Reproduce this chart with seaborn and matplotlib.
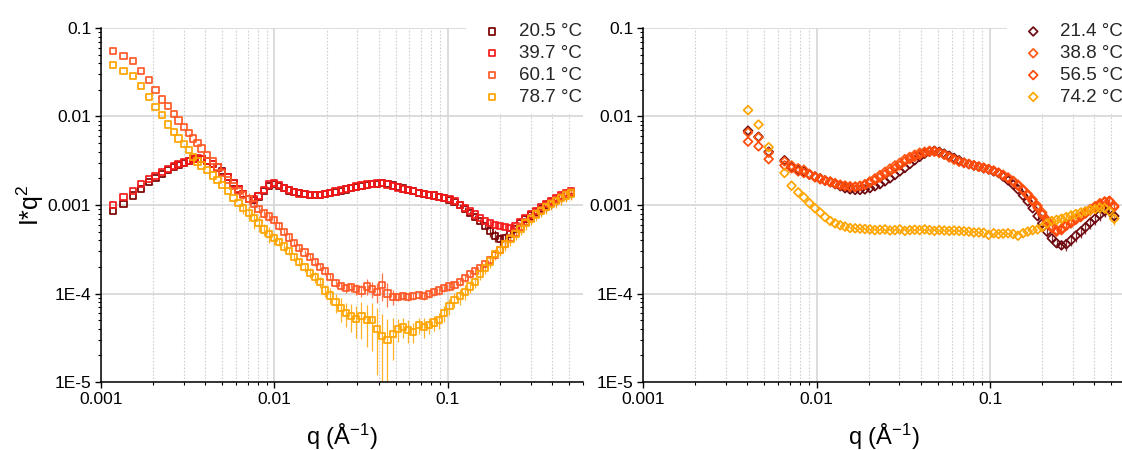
import numpy as np
import pandas as pd
import matplotlib
matplotlib.use('Agg')
import matplotlib.pyplot as plt
import matplotlib.ticker as mticker
import seaborn as sns

# Panneau gauche : q (A^-1) et I*q^2 pour chaque température
LEFT_Q = [0.00117, 0.00135, 0.00153, 0.0017, 0.00189, 0.00206, 0.00224, 0.00243, 0.00263, 0.0028,
          0.003, 0.0032, 0.0034, 0.0036, 0.0038, 0.0041, 0.0044, 0.0047, 0.005, 0.0054,
          0.0058, 0.0062, 0.0066, 0.0071, 0.0076, 0.0081, 0.0087, 0.0093, 0.0099, 0.0106,
          0.0113, 0.0121, 0.013, 0.0139, 0.0149, 0.016, 0.0171, 0.0183, 0.0196, 0.021,
          0.0225, 0.0241, 0.0258, 0.0276, 0.0296, 0.0317, 0.034, 0.0364, 0.039, 0.0418,
          0.0448, 0.048, 0.0514, 0.055, 0.059, 0.063, 0.068, 0.073, 0.078, 0.083,
          0.089, 0.095, 0.102, 0.109, 0.117, 0.125, 0.134, 0.143, 0.153, 0.164,
          0.175, 0.187, 0.2, 0.214, 0.229, 0.245, 0.262, 0.28, 0.3, 0.32,
          0.343, 0.367, 0.393, 0.42, 0.45, 0.48, 0.51]

LEFT_LABELS = ['20.5 °C', '39.7 °C', '60.1 °C', '78.7 °C']
LEFT_COLORS = ['#7a0000', '#f51a1a', '#ff5a28', '#ffa500']

I_205 = [0.00086, 0.00102, 0.00128, 0.00151, 0.00182, 0.00203, 0.00224, 0.0025, 0.0027, 0.00284,
         0.00298, 0.00312, 0.00328, 0.00334, 0.0033, 0.00315, 0.00293, 0.00265, 0.0024, 0.00208,
         0.00176, 0.0015, 0.00132, 0.00117, 0.00115, 0.00125, 0.00145, 0.00165, 0.00172, 0.00165,
         0.00155, 0.00146, 0.0014, 0.00136, 0.00132, 0.00131, 0.0013, 0.0013, 0.00132, 0.00136,
         0.0014, 0.00145, 0.0015, 0.00155, 0.0016, 0.00165, 0.00169, 0.00172, 0.00174, 0.00178,
         0.00172, 0.00166, 0.0016, 0.00154, 0.00148, 0.00143, 0.00138, 0.00134, 0.00131, 0.00128,
         0.00124, 0.0012, 0.00115, 0.00108, 0.00099, 0.0009, 0.00081, 0.00073, 0.00066, 0.00058,
         0.00051, 0.00045, 0.00041, 0.00042, 0.00047, 0.00054, 0.00062, 0.00069, 0.00076, 0.00083,
         0.00091, 0.00099, 0.00107, 0.00115, 0.00123, 0.00132, 0.00138]

I_397 = [0.001, 0.00124, 0.00144, 0.00172, 0.00196, 0.00212, 0.00237, 0.00257, 0.00276, 0.00288,
         0.00302, 0.00316, 0.00333, 0.00336, 0.0033, 0.00312, 0.00292, 0.00265, 0.00238, 0.00206,
         0.00175, 0.00152, 0.00134, 0.00118, 0.00116, 0.00126, 0.00148, 0.0017, 0.00176, 0.00168,
         0.00156, 0.00148, 0.00141, 0.00135, 0.00133, 0.00131, 0.0013, 0.00131, 0.00133, 0.00137,
         0.00142, 0.00147, 0.00152, 0.00157, 0.00162, 0.00166, 0.0017, 0.00173, 0.00175, 0.00176,
         0.0017, 0.00165, 0.00158, 0.00153, 0.00148, 0.00143, 0.00138, 0.00134, 0.00131, 0.00128,
         0.00124, 0.00121, 0.00117, 0.0011, 0.00101, 0.00093, 0.00085, 0.00078, 0.00072, 0.00066,
         0.00062, 0.00059, 0.00058, 0.00056, 0.00055, 0.00058, 0.00064, 0.00071, 0.00078, 0.00086,
         0.00094, 0.00102, 0.0011, 0.00119, 0.00128, 0.00137, 0.00145]

I_601 = [0.0553, 0.0482, 0.0427, 0.0329, 0.0258, 0.0199, 0.0156, 0.0131, 0.0106, 0.009,
         0.00765, 0.00645, 0.00565, 0.00497, 0.00436, 0.0037, 0.00315, 0.00268, 0.00228, 0.00192,
         0.00163, 0.00145, 0.0013, 0.00118, 0.00103, 0.0009, 0.0008, 0.00074, 0.00068, 0.00058,
         0.0005, 0.00043, 0.00037, 0.00033, 0.00029, 0.00026, 0.000225, 0.0002, 0.000178, 0.000155,
         0.000132, 0.000122, 0.000115, 0.000118, 0.000112, 0.000108, 0.00012, 0.000112, 0.000104, 0.000125,
         0.0001, 0.000092, 0.000092, 0.000094, 0.000092, 0.000093, 0.000096, 0.000094, 0.000099, 0.000105,
         0.000108, 0.000115, 0.00012, 0.000125, 0.000135, 0.00015, 0.000165, 0.00018, 0.000195, 0.000215,
         0.00024, 0.00027, 0.00031, 0.00036, 0.00042, 0.00048, 0.00056, 0.00064, 0.00072, 0.0008,
         0.00088, 0.00096, 0.00105, 0.00114, 0.00124, 0.00133, 0.0014]

I_787 = [0.0381, 0.0327, 0.0284, 0.0221, 0.0167, 0.0128, 0.0104, 0.0081, 0.0067, 0.00565,
         0.00487, 0.00417, 0.0035, 0.0031, 0.0028, 0.0025, 0.00215, 0.0019, 0.00168, 0.00143,
         0.0012, 0.00105, 0.00092, 0.00082, 0.00071, 0.00062, 0.00053, 0.00047, 0.00042, 0.00038,
         0.00034, 0.0003, 0.00026, 0.000227, 0.0002, 0.000172, 0.000153, 0.000135, 0.000108, 0.000095,
         0.00008, 0.000068, 0.00006, 0.000056, 0.000052, 0.000056, 0.00005, 0.00005, 0.00004, 0.000033,
         0.00003, 0.000035, 0.00004, 0.000042, 0.000039, 0.000037, 0.000044, 0.000042, 0.000044, 0.000047,
         0.00005, 0.00006, 0.000072, 0.000085, 0.000093, 0.000105, 0.00012, 0.000135, 0.000165, 0.000195,
         0.00023, 0.00028, 0.00031, 0.00036, 0.00041, 0.00047, 0.00054, 0.00062, 0.0007, 0.00078,
         0.00086, 0.00094, 0.00102, 0.0011, 0.00119, 0.00128, 0.00135]

# Erreurs relatives (barres d'erreur)
ERR_205 = [0.0] * 64 + [0.05] * 6 + [0.15] * 17
ERR_397 = [0.0] * 70 + [0.08] * 17
ERR_601 = ([0.0] * 22 + [0.1, 0.15, 0.15, 0.1, 0.1, 0.1, 0.1, 0.1] + [0.08] * 10
           + [0.1, 0.1, 0.12, 0.12, 0.15, 0.15] + [0.2, 0.2, 0.25, 0.35, 0.3, 0.2]
           + [0.1] * 20 + [0.12] * 15)
ERR_787 = ([0.0] * 22 + [0.15, 0.2, 0.25, 0.2, 0.15, 0.2, 0.15, 0.1]
           + [0.1, 0.1, 0.1, 0.1, 0.12, 0.12, 0.15, 0.15, 0.15, 0.2]
           + [0.25, 0.3, 0.3, 0.35, 0.4, 0.45] + [0.5, 0.55, 0.7, 0.78, 0.7, 0.5]
           + [0.3, 0.25, 0.3, 0.25, 0.2, 0.25, 0.2, 0.2, 0.2]
           + [0.2] * 5 + [0.15] * 6 + [0.15] * 15)

# Panneau droit
RIGHT_Q = [0.00403, 0.00463, 0.0053, 0.00654, 0.00718, 0.00784, 0.00845, 0.0091, 0.0098, 0.0105,
           0.0112, 0.012, 0.0128, 0.0137, 0.0146, 0.0156, 0.0167, 0.0178, 0.019, 0.0203,
           0.0217, 0.0232, 0.0248, 0.0265, 0.0283, 0.0302, 0.0323, 0.0345, 0.0368, 0.0393,
           0.042, 0.0448, 0.0478, 0.051, 0.0545, 0.0582, 0.0621, 0.0663, 0.0708, 0.0756,
           0.0807, 0.0862, 0.092, 0.0982, 0.105, 0.112, 0.119, 0.127, 0.136, 0.145,
           0.155, 0.165, 0.176, 0.188, 0.2, 0.213, 0.227, 0.242, 0.258, 0.275,
           0.293, 0.312, 0.333, 0.355, 0.378, 0.403, 0.43, 0.458, 0.488, 0.52]

RIGHT_LABELS = ['21.4 °C', '38.8 °C', '56.5 °C', '74.2 °C']
RIGHT_COLORS = ['#6e0a10', '#ff5a14', '#ff4a0a', '#ffa500']

I_214 = [0.0069, 0.0059, 0.004, 0.0032, 0.0027, 0.0025, 0.0024, 0.0022, 0.0021, 0.002,
         0.0019, 0.00182, 0.00172, 0.00163, 0.00155, 0.0015, 0.00148, 0.00148, 0.0015, 0.00155,
         0.00163, 0.00172, 0.00185, 0.002, 0.00218, 0.0024, 0.00262, 0.0029, 0.0032, 0.0035,
         0.0038, 0.004, 0.0041, 0.004, 0.0038, 0.0036, 0.0034, 0.0032, 0.003, 0.0029,
         0.0028, 0.0027, 0.0026, 0.00252, 0.0024, 0.0023, 0.0021, 0.0019, 0.0017, 0.0015,
         0.00128, 0.0011, 0.00092, 0.00075, 0.00062, 0.0005, 0.00042, 0.00037, 0.00035, 0.00036,
         0.0004, 0.00045, 0.0005, 0.00056, 0.00063, 0.0007, 0.00078, 0.00085, 0.00088, 0.00075]

I_388 = [0.0066, 0.0058, 0.0039, 0.0031, 0.0028, 0.0026, 0.0025, 0.00225, 0.0021, 0.002,
         0.0019, 0.00185, 0.00177, 0.0017, 0.00166, 0.00163, 0.00162, 0.00165, 0.00172, 0.00185,
         0.002, 0.00218, 0.00237, 0.00258, 0.0028, 0.003, 0.0033, 0.0035, 0.0037, 0.0039,
         0.004, 0.0041, 0.004, 0.0039, 0.0037, 0.00345, 0.00325, 0.0031, 0.003, 0.0029,
         0.0028, 0.0027, 0.00265, 0.00255, 0.00245, 0.00232, 0.0022, 0.00205, 0.00188, 0.0017,
         0.0015, 0.00133, 0.00115, 0.00098, 0.00082, 0.00068, 0.00058, 0.00052, 0.00054, 0.0006,
         0.00065, 0.0007, 0.00075, 0.00082, 0.0009, 0.00097, 0.00105, 0.0011, 0.00112, 0.00098]

I_565 = [0.0052, 0.0046, 0.0033, 0.0028, 0.0026, 0.0024, 0.0023, 0.0022, 0.00205, 0.00195,
         0.00188, 0.0018, 0.00174, 0.00167, 0.00163, 0.0016, 0.0016, 0.00163, 0.00168, 0.00178,
         0.0019, 0.00205, 0.00222, 0.0024, 0.0026, 0.0028, 0.0031, 0.0033, 0.0035, 0.0037,
         0.0039, 0.004, 0.00405, 0.0039, 0.0037, 0.0035, 0.0033, 0.0031, 0.003, 0.0029,
         0.0028, 0.00272, 0.00262, 0.00253, 0.00243, 0.0023, 0.00215, 0.002, 0.00183, 0.00165,
         0.00146, 0.00128, 0.0011, 0.00093, 0.00078, 0.00065, 0.00055, 0.0005, 0.00052, 0.00058,
         0.00062, 0.00068, 0.00073, 0.0008, 0.00087, 0.00094, 0.001, 0.00108, 0.0011, 0.00095]

I_742 = [0.0118, 0.0081, 0.0045, 0.0023, 0.00165, 0.00139, 0.00122, 0.00105, 0.00092, 0.00082,
         0.00073, 0.00066, 0.00062, 0.00059, 0.00057, 0.00055, 0.000545, 0.00054, 0.000535, 0.00053,
         0.00052, 0.000525, 0.00053, 0.000515, 0.00052, 0.00053, 0.00051, 0.00052, 0.000525, 0.00052,
         0.00053, 0.00052, 0.00051, 0.00052, 0.000515, 0.00051, 0.000515, 0.00051, 0.000505, 0.0005,
         0.00049, 0.00049, 0.000485, 0.00046, 0.00048, 0.00047, 0.000475, 0.00048, 0.00047, 0.00045,
         0.00048, 0.0005, 0.00052, 0.00053, 0.00056, 0.00062, 0.00066, 0.00068, 0.0007, 0.00073,
         0.00076, 0.00079, 0.00082, 0.00085, 0.00088, 0.0009, 0.00093, 0.00092, 0.00085, 0.0007]

ERR_214 = [0.0] * 53 + [0.1] * 6 + [0.15] * 11
ERR_388 = [0.0] * 55 + [0.08] * 15
ERR_565 = [0.0] * 55 + [0.08] * 15
ERR_742 = [0.0] * 54 + [0.1] * 6 + [0.15] * 10

Y_TICK_LABELS = {0.1: '0.1', 0.01: '0.01', 0.001: '0.001', 1e-4: '1E-4', 1e-5: '1E-5'}


def setup_plot_style():
    # Style proche d'Origin : police type Arial, fond blanc
    sns.set_theme(style='ticks')
    plt.rcParams['font.family'] = ['Liberation Sans', 'DejaVu Sans']
    plt.rcParams['mathtext.fontset'] = 'custom'
    plt.rcParams['mathtext.rm'] = 'Liberation Sans'
    plt.rcParams['mathtext.it'] = 'Liberation Sans'
    plt.rcParams['mathtext.bf'] = 'Liberation Sans:bold'


def build_frame(q, series, errors, labels):
    # Tableau long : une ligne par point
    frames = []
    for lab, vals, err in zip(labels, series, errors):
        vals = np.asarray(vals)
        frames.append(pd.DataFrame({'q': q, 'Iq2': vals,
                                    'err': vals * np.asarray(err), 'T': lab}))
    return pd.concat(frames, ignore_index=True)


def y_formatter(v, pos):
    for key, text in Y_TICK_LABELS.items():
        if np.isclose(v, key, rtol=1e-6):
            return text
    return ''


def draw_panel(fig, ax, df, labels, colors, marker, size, legend_x):
    for lab, col in zip(labels, colors):
        sub = df[df['T'] == lab]
        has_err = sub['err'] > 0
        if has_err.any():
            ax.errorbar(sub['q'][has_err], sub['Iq2'][has_err], yerr=sub['err'][has_err],
                        fmt='none', ecolor=col, elinewidth=0.9, alpha=0.85, zorder=2)
        sns.scatterplot(x=sub['q'].values, y=sub['Iq2'].values, ax=ax, marker=marker, s=size,
                        color=col, facecolor='none', edgecolor=col, linewidth=1.25,
                        label=lab, zorder=3)

    ax.set_xscale('log')
    ax.set_yscale('log')
    ax.set_xlim(0.001, 0.6)
    ax.set_ylim(1e-5, 0.1)

    ax.xaxis.set_major_locator(mticker.FixedLocator([0.001, 0.01, 0.1]))
    ax.xaxis.set_major_formatter(mticker.FuncFormatter(lambda v, p: f'{v:g}'))
    ax.xaxis.set_minor_locator(mticker.LogLocator(base=10, subs=np.arange(2, 10), numticks=20))
    ax.xaxis.set_minor_formatter(mticker.NullFormatter())
    ax.yaxis.set_major_locator(mticker.FixedLocator([1e-5, 1e-4, 1e-3, 1e-2, 1e-1]))
    ax.yaxis.set_major_formatter(mticker.FuncFormatter(y_formatter))
    ax.yaxis.set_minor_locator(mticker.LogLocator(base=10, subs=np.arange(2, 10), numticks=20))
    ax.yaxis.set_minor_formatter(mticker.NullFormatter())

    # Grille : majeure pleine, mineure pointillée (verticale seulement)
    ax.grid(True, which='major', color='#d6d6d6', linewidth=1.2)
    ax.grid(True, which='minor', axis='x', color='#d0d0d0', linewidth=0.8, linestyle=(0, (1.5, 1.5)))
    ax.set_axisbelow(True)

    sns.despine(ax=ax)
    for side in ['left', 'bottom']:
        ax.spines[side].set_color('black')
        ax.spines[side].set_linewidth(1.1)
    ax.tick_params(which='major', direction='out', length=4, width=1.0, color='black',
                   labelsize=12.5, pad=3, labelcolor='black')
    ax.tick_params(which='minor', direction='out', length=2.5, width=0.8, color='black')

    ax.set_xlabel('q (Å$^{-1}$)', fontsize=17, color='black')
    ax.xaxis.set_label_coords(0.5, -0.112)

    leg = ax.legend(loc='upper left', bbox_to_anchor=(legend_x, 0.965),
                    bbox_transform=fig.transFigure, fontsize=13.5, frameon=True,
                    fancybox=False, framealpha=1.0, borderpad=0.4, labelspacing=0.25,
                    handletextpad=0.45, handlelength=2.0, borderaxespad=0, scatterpoints=1)
    leg.get_frame().set_facecolor('white')
    leg.get_frame().set_edgecolor('none')
    leg.set_zorder(5)


def main():
    setup_plot_style()
    fig = plt.figure(figsize=(11.22, 4.5), dpi=100)
    ax_left = fig.add_axes([0.0900, 0.1511, 0.4296, 0.7867])
    ax_right = fig.add_axes([0.5731, 0.1511, 0.4296, 0.7867])

    df_left = build_frame(LEFT_Q, [I_205, I_397, I_601, I_787],
                          [ERR_205, ERR_397, ERR_601, ERR_787], LEFT_LABELS)
    df_right = build_frame(RIGHT_Q, [I_214, I_388, I_565, I_742],
                           [ERR_214, ERR_388, ERR_565, ERR_742], RIGHT_LABELS)

    draw_panel(fig, ax_left, df_left, LEFT_LABELS, LEFT_COLORS, 's', 20, 0.4153)
    draw_panel(fig, ax_right, df_right, RIGHT_LABELS, RIGHT_COLORS, 'D', 20, 0.8975)

    ax_left.set_ylabel('I*q$^2$', fontsize=18, color='black')
    ax_left.yaxis.set_label_coords(-0.115, 0.5)

    fig.savefig('out.png', dpi=100)
    plt.close(fig)


if __name__ == '__main__':
    main()
